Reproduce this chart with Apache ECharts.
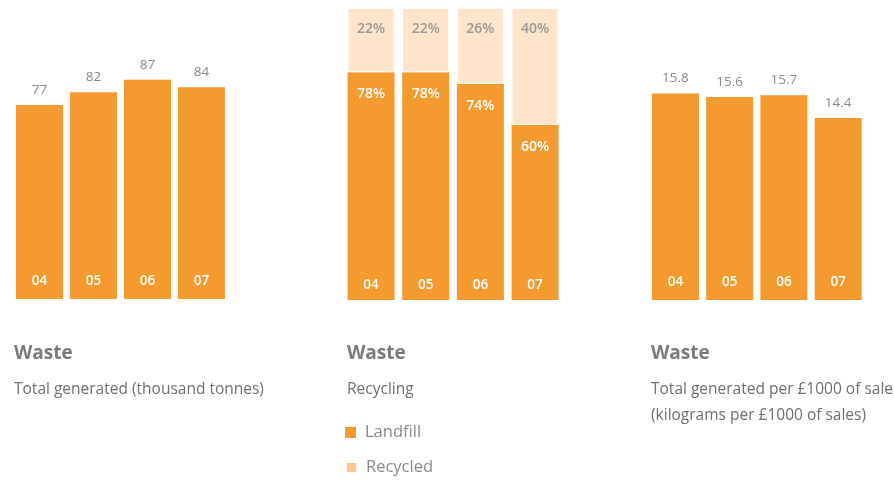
<!DOCTYPE html>
<html>
<head>
<meta charset="utf-8">
<script src="https://cdn.jsdelivr.net/npm/echarts@6/dist/echarts.min.js"></script>
<style>
  html, body { margin: 0; padding: 0; background: #fff; }
  #chart { width: 894px; height: 481px; }
</style>
</head>
<body>
<div id="chart"></div>
<script>
  // 年份（x轴）
  var years = ['04', '05', '06', '07']
  // 总产生量（千吨）
  var totalTonnes = [77, 82, 87, 84]
  // 回收比例
  var landfillPct = [78, 78, 74, 60]
  var recycledPct = [22, 22, 26, 40]
  // 每千英镑销售额产生量（公斤）
  var perSales = [15.8, 15.6, 15.7, 14.4]

  var ORANGE = '#F49A2F'
  var LIGHT = '#FDE4CA'
  var GREY = '#8a8a8a'
  var FONT = 'Open Sans'

  var myChart = echarts.init(document.getElementById('chart'))

  function catAxis (idx, margin) {
    return {
      type: 'category',
      gridIndex: idx,
      data: years,
      z: 10,
      axisTick: { show: false },
      axisLine: { show: false },
      axisLabel: {
        inside: true,
        margin: margin,
        color: '#fff',
        fontSize: 13.5,
        fontWeight: 600,
        fontFamily: FONT
      }
    }
  }

  function valAxis (idx, min, max) {
    return {
      type: 'value',
      gridIndex: idx,
      min: min,
      max: max,
      show: false
    }
  }

  // 图例（每个单独放，竖排）
  function legendItem (name, color, top) {
    return {
      left: 345,
      top: top,
      padding: 0,
      itemWidth: 11,
      itemHeight: 11,
      icon: 'rect',
      selectedMode: false,
      textStyle: { fontSize: 16.5, color: GREY, fontFamily: FONT, padding: [0, 0, 0, 4] },
      data: [{ name: name, itemStyle: { color: color } }]
    }
  }

  var titleText = { fontSize: 19, fontWeight: 'bold', color: '#7a7a7a', fontFamily: FONT }
  var subText = { fontSize: 15.5, fontWeight: 'normal', color: '#6f6f6f', fontFamily: FONT, lineHeight: 26 }

  var option = {
    animation: false,
    backgroundColor: '#fff',
    title: [
      { text: 'Waste', left: 14, top: 344, padding: 0, textStyle: titleText },
      { text: 'Total generated (thousand tonnes)', left: 14, top: 377, padding: 0, textStyle: subText },
      { text: 'Waste', left: 347, top: 344, padding: 0, textStyle: titleText },
      { text: 'Recycling', left: 347, top: 377, padding: 0, textStyle: subText },
      { text: 'Waste', left: 651, top: 344, padding: 0, textStyle: titleText },
      { text: 'Total generated per £1000 of sales\n(kilograms per £1000 of sales)', left: 651, top: 377, padding: 0, textStyle: subText }
    ],
    legend: [
      legendItem('Landfill', ORANGE, 424),
      legendItem('Recycled', '#FDC890', 459)
    ],
    grid: [
      { left: 12.5, width: 216, top: 47, bottom: 182 },
      { left: 343.7, width: 218.7, top: 8, bottom: 181 },
      { left: 648.3, width: 217, top: 90, bottom: 181 }
    ],
    xAxis: [catAxis(0, 11), catAxis(1, 8), catAxis(2, 11)],
    yAxis: [valAxis(0, 0, 100), valAxis(1, 0, 100), valAxis(2, 4, 16)],
    series: [
      {
        name: 'Total generated',
        type: 'bar',
        xAxisIndex: 0,
        yAxisIndex: 0,
        barWidth: 47,
        itemStyle: { color: ORANGE },
        label: {
          show: true,
          position: 'top',
          distance: 8,
          color: GREY,
          fontSize: 13.5,
          fontFamily: FONT
        },
        data: totalTonnes
      },
      {
        name: 'Landfill',
        type: 'bar',
        stack: 'rec',
        xAxisIndex: 1,
        yAxisIndex: 1,
        barWidth: 47,
        itemStyle: { color: ORANGE },
        label: {
          show: true,
          position: 'insideTop',
          distance: 15,
          color: '#fff',
          fontSize: 14,
          fontWeight: 600,
          fontFamily: FONT,
          formatter: '{c}%'
        },
        data: landfillPct
      },
      {
        name: 'Recycled',
        type: 'bar',
        stack: 'rec',
        xAxisIndex: 1,
        yAxisIndex: 1,
        barWidth: 47,
        itemStyle: { color: LIGHT, borderColor: '#fff', borderWidth: 1 },
        label: {
          show: true,
          position: 'insideTop',
          distance: 14,
          color: '#999',
          fontSize: 14,
          fontWeight: 600,
          fontFamily: FONT,
          formatter: '{c}%'
        },
        data: recycledPct
      },
      {
        name: 'Per £1000 of sales',
        type: 'bar',
        xAxisIndex: 2,
        yAxisIndex: 2,
        barWidth: 47,
        itemStyle: { color: ORANGE },
        label: {
          show: true,
          position: 'top',
          distance: 8,
          color: GREY,
          fontSize: 13.5,
          fontFamily: FONT
        },
        data: perSales
      }
    ]
  }

  myChart.setOption(option)
</script>
</body>
</html>
